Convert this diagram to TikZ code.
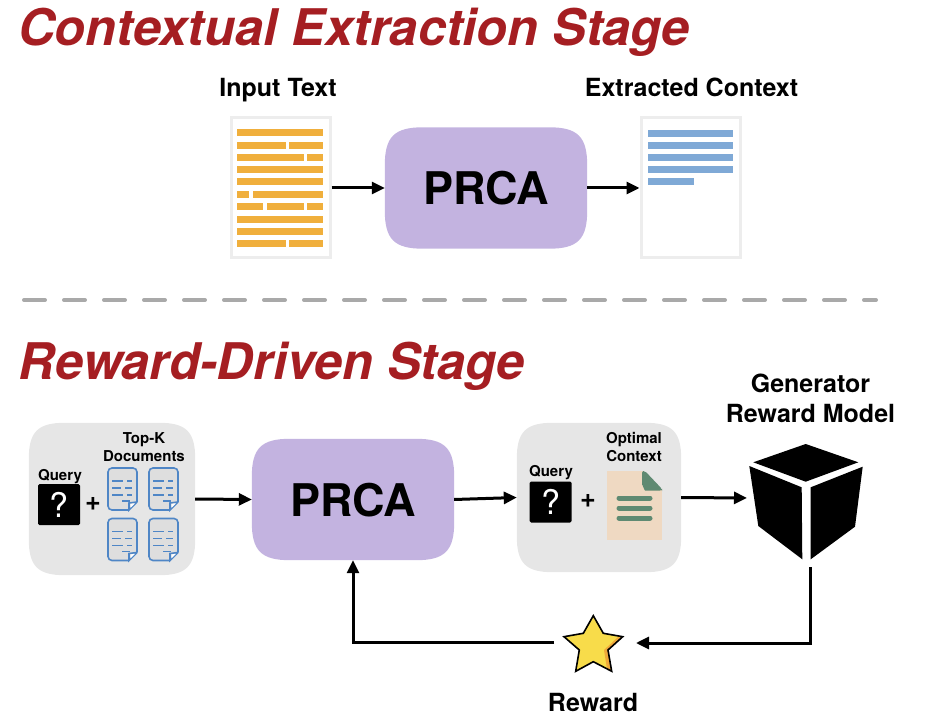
\documentclass[tikz,border=0pt]{standalone}
\usepackage{fontspec}
\setmainfont{TeX Gyre Heros}
\usetikzlibrary{arrows.meta,calc,backgrounds}
\definecolor{titlered}{HTML}{A51E22}
\definecolor{prcapurple}{HTML}{C3B3E0}
\definecolor{panelgray}{HTML}{E6E6E6}
\definecolor{barorange}{HTML}{F0AF3C}
\definecolor{barblue}{HTML}{7FA9D6}
\definecolor{docblue}{HTML}{4F86C6}
\definecolor{docgray}{HTML}{DEDEDE}
\definecolor{paper}{HTML}{EFD9C2}
\definecolor{leaf}{HTML}{5F8A72}
\definecolor{stary}{HTML}{F8DC4A}
\definecolor{staro}{HTML}{EFA93A}
\definecolor{dashgray}{HTML}{A9A9A9}
\tikzset{
  x=1pt,y=-1pt,
  titletext/.style={font=\fontsize{50.5}{50.5}\selectfont\bfseries\itshape,text=titlered,anchor=base,inner sep=0},
  label/.style={font=\fontsize{25}{25}\selectfont\bfseries,anchor=base,inner sep=0},
  smalllabel/.style={font=\fontsize{15}{15}\selectfont\bfseries,anchor=base,inner sep=0},
  prcabox/.style={minimum width=202pt,minimum height=121pt,inner sep=0},
  prcatext/.style={font=\fontsize{45}{45}\selectfont\bfseries,anchor=base,inner sep=0},
  panel/.style={inner sep=0},
  page/.style={fill=white,draw=black!7,line width=3pt,inner sep=0,minimum width=99pt,minimum height=140pt},
  qbox/.style={fill=black,rounded corners=1.5pt,minimum width=42pt,minimum height=41pt,inner sep=0,text=white,font=\fontsize{34}{34}\selectfont},
  plussign/.style={font=\fontsize{27}{27}\selectfont\bfseries,inner sep=0},
  conn/.style={line width=3pt,-{Triangle[length=13pt,width=12pt]}},
  obar/.style={fill=barorange},
  bbar/.style={fill=barblue},
  iconline/.style={docblue,line width=1.5pt},
  cubeface/.style={fill=black},
}
% #1 colour, #2 node name, #3 corner size (a bare number: y runs downwards)
\newcommand{\squircle}[3]{%
  \fill[#1] ($(#2.north west)+(#3,0)$) -- ($(#2.north east)+(-#3,0)$)
    .. controls ($(#2.north east)+(-0.25*#3,0)$) and ($(#2.north east)+(0,0.25*#3)$) .. ($(#2.north east)+(0,#3)$)
    -- ($(#2.south east)+(0,-#3)$)
    .. controls ($(#2.south east)+(0,-0.25*#3)$) and ($(#2.south east)+(-0.25*#3,0)$) .. ($(#2.south east)+(-#3,0)$)
    -- ($(#2.south west)+(#3,0)$)
    .. controls ($(#2.south west)+(0.25*#3,0)$) and ($(#2.south west)+(0,-0.25*#3)$) .. ($(#2.south west)+(0,-#3)$)
    -- ($(#2.north west)+(0,#3)$)
    .. controls ($(#2.north west)+(0,0.25*#3)$) and ($(#2.north west)+(0.25*#3,0)$) .. ($(#2.north west)+(#3,0)$) -- cycle;}
\newcommand{\docicon}[2]{%
  \begin{scope}[shift={(#1,#2)}]
    \fill[docgray,rounded corners=4pt] (0,0) -- (29,0) -- (29,34) -- (21,42) -- (0,42) -- cycle;
    \draw[docblue,line width=1.6pt,rounded corners=4pt] (21,42) -- (0,42) -- (0,0) -- (29,0) -- (29,34);
    \draw[docblue,line width=1.6pt] (29,34) -- (21,42) -- (21,35) -- (29,34);
    \fill[white] (22.5,36) -- (27,35.3) -- (22.5,40) -- cycle;
    \draw[iconline] (4,13) -- (15,13) (19,13) -- (24,13);
    \draw[iconline] (4,20) -- (13,20) (17,20) -- (24,20);
    \draw[iconline] (4,27) -- (15,27) (19,27) -- (24,27);
    \draw[iconline] (14,33) -- (22,33);
  \end{scope}}
\begin{document}
\begin{tikzpicture}
\useasboundingbox (0,0) rectangle (930,722);

% titles
\node[titletext] (t1) at (354,46) {Contextual Extraction Stage};
\node[titletext] (t2) at (271.5,379) {Reward-Driven Stage};

% top row
\node[label] (inlab) at (278,97) {Input Text};
\node[label] (outlab) at (691.5,97) {Extracted Context};
\node[page] (indoc) at (280.5,188) {};
\node[page] (outdoc) at (690.5,188) {};
\node[prcabox] (prcaA) at (486,188) {};
\node[prcatext] (prcaAt) at (486,205) {PRCA};

\foreach \y/\a/\b in {129.5/237/323.3, 166.5/237/323.3, 178.5/237/323.3, 228/237/323.3, 216/237/323.3,
  142/237/286, 142/289.3/323.3, 154/237/304, 154/307.3/323.3,
  191/237/249, 191/252.7/323.3, 203.3/237/263.3, 203.3/267/304, 203.3/307.3/323.3,
  240.3/237/286, 240.3/289.3/323.3}
  \fill[obar] (\a,\y) rectangle (\b,\y+7);

\foreach \y/\b in {130/733.3,142/733.3,154/733.3,166/733.3,178/694.3}
  \fill[bbar] (647.7,\y) rectangle (\b,\y+7);

\draw[conn] (indoc.east) -- (prcaA.west);
\draw[conn] (prcaA.east) -- (outdoc.west);

% separator
\draw[dashgray,line width=4pt,line cap=round,dash pattern=on 21pt off 19pt] (24,300) -- (876,300);

% bottom row
\node[panel,minimum width=166pt,minimum height=152pt] (left) at (112,499) {};
\node[panel,minimum width=164pt,minimum height=149pt] (right) at (599,497.5) {};
\node[prcabox] (prcaB) at (353,499.5) {};
\node[prcatext] (prcaBt) at (353,516.5) {PRCA};

\begin{scope}[on background layer]
  \squircle{prcapurple}{prcaA}{38}
  \squircle{prcapurple}{prcaB}{38}
  \squircle{panelgray}{left}{36}
  \squircle{panelgray}{right}{36}
\end{scope}

\node[smalllabel] (q1) at (60,480) {Query};
\node[qbox] (qb1) at (59,504.5) {?};
\node[plussign] (p1) at (93,504) {+};
\node[smalllabel] (tk1) at (144,443) {Top-K};
\node[smalllabel] (tk2) at (144,461) {Documents};
\docicon{108}{468}
\docicon{149}{468}
\docicon{108}{518.5}
\docicon{149}{518.5}

\node[smalllabel] (q2) at (551,476) {Query};
\node[qbox] (qb2) at (550.5,502) {?};
\node[plussign] (p2) at (588,501) {+};
\node[smalllabel] (oc1) at (634,443) {Optimal};
\node[smalllabel] (oc2) at (634,461) {Context};
\fill[paper] (607,471) rectangle (662,540);
\fill[panelgray] (642,470.5) -- (662.5,470.5) -- (662.5,491) -- cycle;
\fill[leaf,rounded corners=2pt] (642,471) -- (645,471) -- (662,489) -- (662,490.5) -- (647,490.5) to[out=180,in=90] (642,486) -- cycle;
\foreach \y in {498,508,518}
  \draw[leaf,line width=5pt,line cap=round] (619,\y) -- (650,\y);

% black-box cube
\fill[cubeface] (805.7,444) -- (858.3,462.3) -- (805.7,481.7) -- (753.3,462.3) -- cycle;
\fill[cubeface] (749.3,466) -- (801.7,487.3) -- (802.3,559.3) -- (758.3,526) -- cycle;
\fill[cubeface] (810.7,487.3) -- (862.7,466.7) -- (855,526.7) -- (810.7,559.3) -- cycle;
\node[label] (g1) at (810.5,392) {Generator};
\node[label] (g2) at (810.5,422) {Reward Model};
\coordinate (cubein) at (747,498);
\coordinate (cubeout) at (810,567);

% star
\fill[stary]
  (593.3,615.7) -- (603.3,633.3) -- (622.7,636.7) -- (608,650) -- (611.7,671.3) -- (593.3,661.7)
  -- (575.7,671.3) -- (579.3,650) -- (564,636.7) -- (583.3,633.3) -- cycle;
\fill[staro] (622.7,636.7) -- (608,650) -- (611.7,671.3) -- (607,668.8) -- (604,650) -- (618,637) -- cycle;
\draw[black,line width=1.6pt,line join=miter]
  (593.3,615.7) -- (603.3,633.3) -- (622.7,636.7) -- (608,650) -- (611.7,671.3) -- (593.3,661.7)
  -- (575.7,671.3) -- (579.3,650) -- (564,636.7) -- (583.3,633.3) -- cycle;
\node[label] (rw) at (593,711) {Reward};
\coordinate (starin) at (636,643);
\coordinate (starout) at (554,642);

\draw[conn] (left.east) -- (prcaB.west);
\draw[conn] (prcaB.east) -- (right.west);
\draw[conn] (right.east) -- (cubein);
\draw[conn] (cubeout) |- (starin);
\draw[conn] (starout) -| (prcaB.south);
\end{tikzpicture}
\end{document}
